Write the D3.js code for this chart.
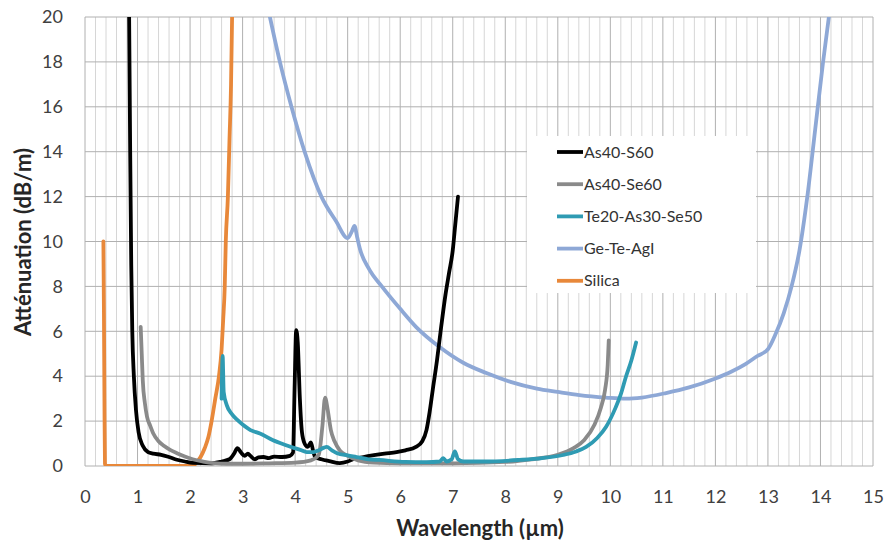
<!DOCTYPE html>
<html><head><meta charset="utf-8">
<script src="https://cdn.jsdelivr.net/npm/d3@7"></script>
<style>body{margin:0;background:#fff}</style>
</head><body>
<svg id="chart" width="887" height="545"></svg>
<script>
const xTicks = [0,1,2,3,4,5,6,7,8,9,10,11,12,13,14,15];
const yTicks = [0,2,4,6,8,10,12,14,16,18,20];
const seriesNames = ["As40-S60","As40-Se60","Te20-As30-Se50","Ge-Te-AgI","Silica"];
const seriesColors = ["#000000","#8a8a8a","#2f9bb3","#8ea8d6","#e8883a"];

const as40s60 = [[0.84,20],[0.86,14],[0.88,9],[0.9,6],[0.93,4],[0.97,2.5],[1.02,1.5],[1.1,0.9],[1.2,0.62],[1.3,0.55],[1.45,0.5],[1.6,0.4],[1.75,0.28],[1.9,0.2],[2.05,0.14],[2.4,0.12],[2.6,0.2],[2.75,0.3],[2.85,0.6],[2.9,0.8],[2.97,0.6],[3.04,0.45],[3.1,0.55],[3.15,0.45],[3.23,0.3],[3.3,0.38],[3.4,0.4],[3.5,0.35],[3.6,0.42],[3.75,0.4],[3.9,0.45],[3.96,0.6],[3.99,3.5],[4.02,6.05],[4.05,5.5],[4.09,3],[4.13,1.5],[4.18,1.0],[4.24,0.85],[4.3,1.05],[4.34,0.7],[4.38,0.4],[4.5,0.3],[4.65,0.22],[4.85,0.13],[5.0,0.2],[5.1,0.3],[5.3,0.4],[5.5,0.48],[5.7,0.55],[5.93,0.62],[6.1,0.7],[6.3,0.85],[6.42,1.1],[6.5,1.6],[6.56,2.4],[6.62,3.4],[6.7,4.7],[6.78,6.2],[6.86,7.6],[6.93,8.6],[7.0,9.6],[7.05,10.8],[7.1,12.0]];
const as40se60 = [[1.06,6.2],[1.08,5],[1.1,3.8],[1.14,2.8],[1.18,2.2],[1.24,1.8],[1.3,1.45],[1.4,1.1],[1.5,0.9],[1.62,0.72],[1.75,0.57],[1.9,0.42],[2.05,0.3],[2.25,0.2],[2.45,0.13],[2.7,0.1],[3.0,0.1],[3.5,0.12],[4.0,0.15],[4.3,0.25],[4.45,0.5],[4.52,1.8],[4.57,3.05],[4.62,2.5],[4.68,1.6],[4.75,1.1],[4.85,0.7],[5.0,0.45],[5.2,0.25],[5.5,0.15],[6,0.12],[7,0.12],[8,0.18],[8.5,0.3],[9.0,0.5],[9.3,0.8],[9.5,1.15],[9.7,1.85],[9.82,2.6],[9.9,3.4],[9.95,4.5],[9.97,5.6]];
const te20as30se50 = [[2.6,3.0],[2.62,4.9],[2.64,3.3],[2.7,2.7],[2.8,2.3],[2.9,2.05],[3.0,1.85],[3.15,1.6],[3.33,1.45],[3.57,1.16],[3.8,0.95],[3.96,0.82],[4.1,0.72],[4.22,0.62],[4.35,0.62],[4.45,0.7],[4.55,0.82],[4.6,0.85],[4.7,0.7],[4.8,0.57],[5.0,0.47],[5.17,0.4],[5.4,0.3],[5.6,0.27],[6.1,0.18],[6.5,0.17],[6.75,0.2],[6.82,0.35],[6.88,0.2],[6.98,0.3],[7.04,0.65],[7.1,0.3],[7.2,0.2],[7.6,0.2],[8.27,0.27],[8.7,0.35],[9.1,0.49],[9.35,0.65],[9.54,0.85],[9.75,1.25],[9.92,1.75],[10.1,2.6],[10.2,3.2],[10.3,4.0],[10.4,4.7],[10.49,5.5]];
const geTeAgI = [[3.52,20],[3.71,18],[3.93,16],[4.18,14],[4.5,12],[4.78,10.9],[5.0,10.15],[5.08,10.45],[5.13,10.7],[5.18,10.2],[5.23,9.7],[5.4,8.8],[5.65,8.0],[6.0,7.0],[6.3,6.2],[6.75,5.3],[7.2,4.6],[7.64,4.14],[8.1,3.75],[8.6,3.45],[9.0,3.3],[9.41,3.16],[9.92,3.05],[10.3,3.0],[10.6,3.05],[11.06,3.25],[11.5,3.5],[12.0,3.9],[12.3,4.2],[12.58,4.55],[12.8,4.9],[13.0,5.2],[13.15,5.9],[13.3,6.8],[13.45,8.0],[13.6,9.6],[13.75,12],[13.9,15],[14.05,18],[14.16,20]];
const silica = [[0.35,10],[0.36,7],[0.37,3],[0.38,0.1],[0.4,0],[1.0,0],[2.05,0],[2.12,0.15],[2.2,0.4],[2.28,0.8],[2.35,1.3],[2.41,2],[2.48,3],[2.55,4],[2.6,5.2],[2.63,6.5],[2.66,8],[2.68,10],[2.72,12],[2.75,14.5],[2.78,17],[2.8,20]];
const seriesData = [as40s60, as40se60, te20as30se50, geTeAgI, silica];

const svg = d3.select("#chart");
const pL = 85, pR = 873, pT = 17, pB = 466;
const x = d3.scaleLinear().domain([0,15]).range([pL,pR]);
const y = d3.scaleLinear().domain([0,20]).range([pB,pT]);
const font = "Lato, 'Open Sans', sans-serif";

const minor = d3.range(0, 15.0001, 0.2).map(v => Math.round(v*10)/10);
svg.append("g").selectAll("line").data(minor).join("line")
  .attr("x1", d => x(d)).attr("x2", d => x(d))
  .attr("y1", pT).attr("y2", pB)
  .attr("stroke", d => Math.abs(d - Math.round(d)) < 1e-6 ? "#b0b0b0" : "#d6d6d6")
  .attr("stroke-width", 1);
svg.append("g").selectAll("line").data(yTicks).join("line")
  .attr("x1", pL).attr("x2", pR)
  .attr("y1", d => y(d)).attr("y2", d => y(d))
  .attr("stroke", "#b0b0b0").attr("stroke-width", 1);

const xAxis = svg.append("g").attr("transform", `translate(0,${pB})`)
  .call(d3.axisBottom(x).tickValues(xTicks).tickSize(0).tickPadding(24).tickFormat(d3.format("d")));
xAxis.select(".domain").remove();
xAxis.selectAll("text").attr("font-family", font).attr("font-size", 18).attr("fill", "#404040");
const yAxis = svg.append("g").attr("transform", `translate(${pL},0)`)
  .call(d3.axisLeft(y).tickValues(yTicks).tickSize(0).tickPadding(22).tickFormat(d3.format("d")));
yAxis.select(".domain").remove();
yAxis.selectAll("text").attr("font-family", font).attr("font-size", 18).attr("fill", "#404040");

svg.append("text").attr("x", 480).attr("y", 536).attr("text-anchor", "middle")
  .attr("font-family", font).attr("font-weight", "bold").attr("font-size", 22).attr("fill", "#262626")
  .text("Wavelength (µm)");
svg.append("text").attr("transform", "translate(31,242) rotate(-90)").attr("text-anchor", "middle")
  .attr("font-family", font).attr("font-weight", "bold").attr("font-size", 22).attr("fill", "#262626")
  .text("Atténuation (dB/m)");

svg.append("clipPath").attr("id", "clip").append("rect")
  .attr("x", pL).attr("y", pT).attr("width", pR-pL).attr("height", pB-pT);

const line = d3.line().x(d => x(d[0])).y(d => y(d[1])).curve(d3.curveMonotoneX);
const order = [3,4,0,1,2];
svg.append("g").attr("clip-path", "url(#clip)").selectAll("path").data(order).join("path")
  .attr("d", i => line(seriesData[i]))
  .attr("fill", "none").attr("stroke", i => seriesColors[i])
  .attr("stroke-width", 3.8).attr("stroke-linejoin", "round").attr("stroke-linecap", "round");

const lg = svg.append("g");
lg.append("rect").attr("x", 527).attr("y", 136).attr("width", 229).attr("height", 157).attr("fill", "#fff");
const rows = lg.selectAll("g").data(seriesNames).join("g")
  .attr("transform", (d,i) => `translate(557,${152 + i*32.2})`);
rows.append("line").attr("x1", 0).attr("x2", 26).attr("y1", 0).attr("y2", 0)
  .attr("stroke", (d,i) => seriesColors[i]).attr("stroke-width", 3.8);
rows.append("text").attr("x", 27).attr("y", 0).attr("dy", "0.35em")
  .attr("font-family", font).attr("font-size", 16).attr("fill", "#333333").text(d => d);
</script>
</body></html>
